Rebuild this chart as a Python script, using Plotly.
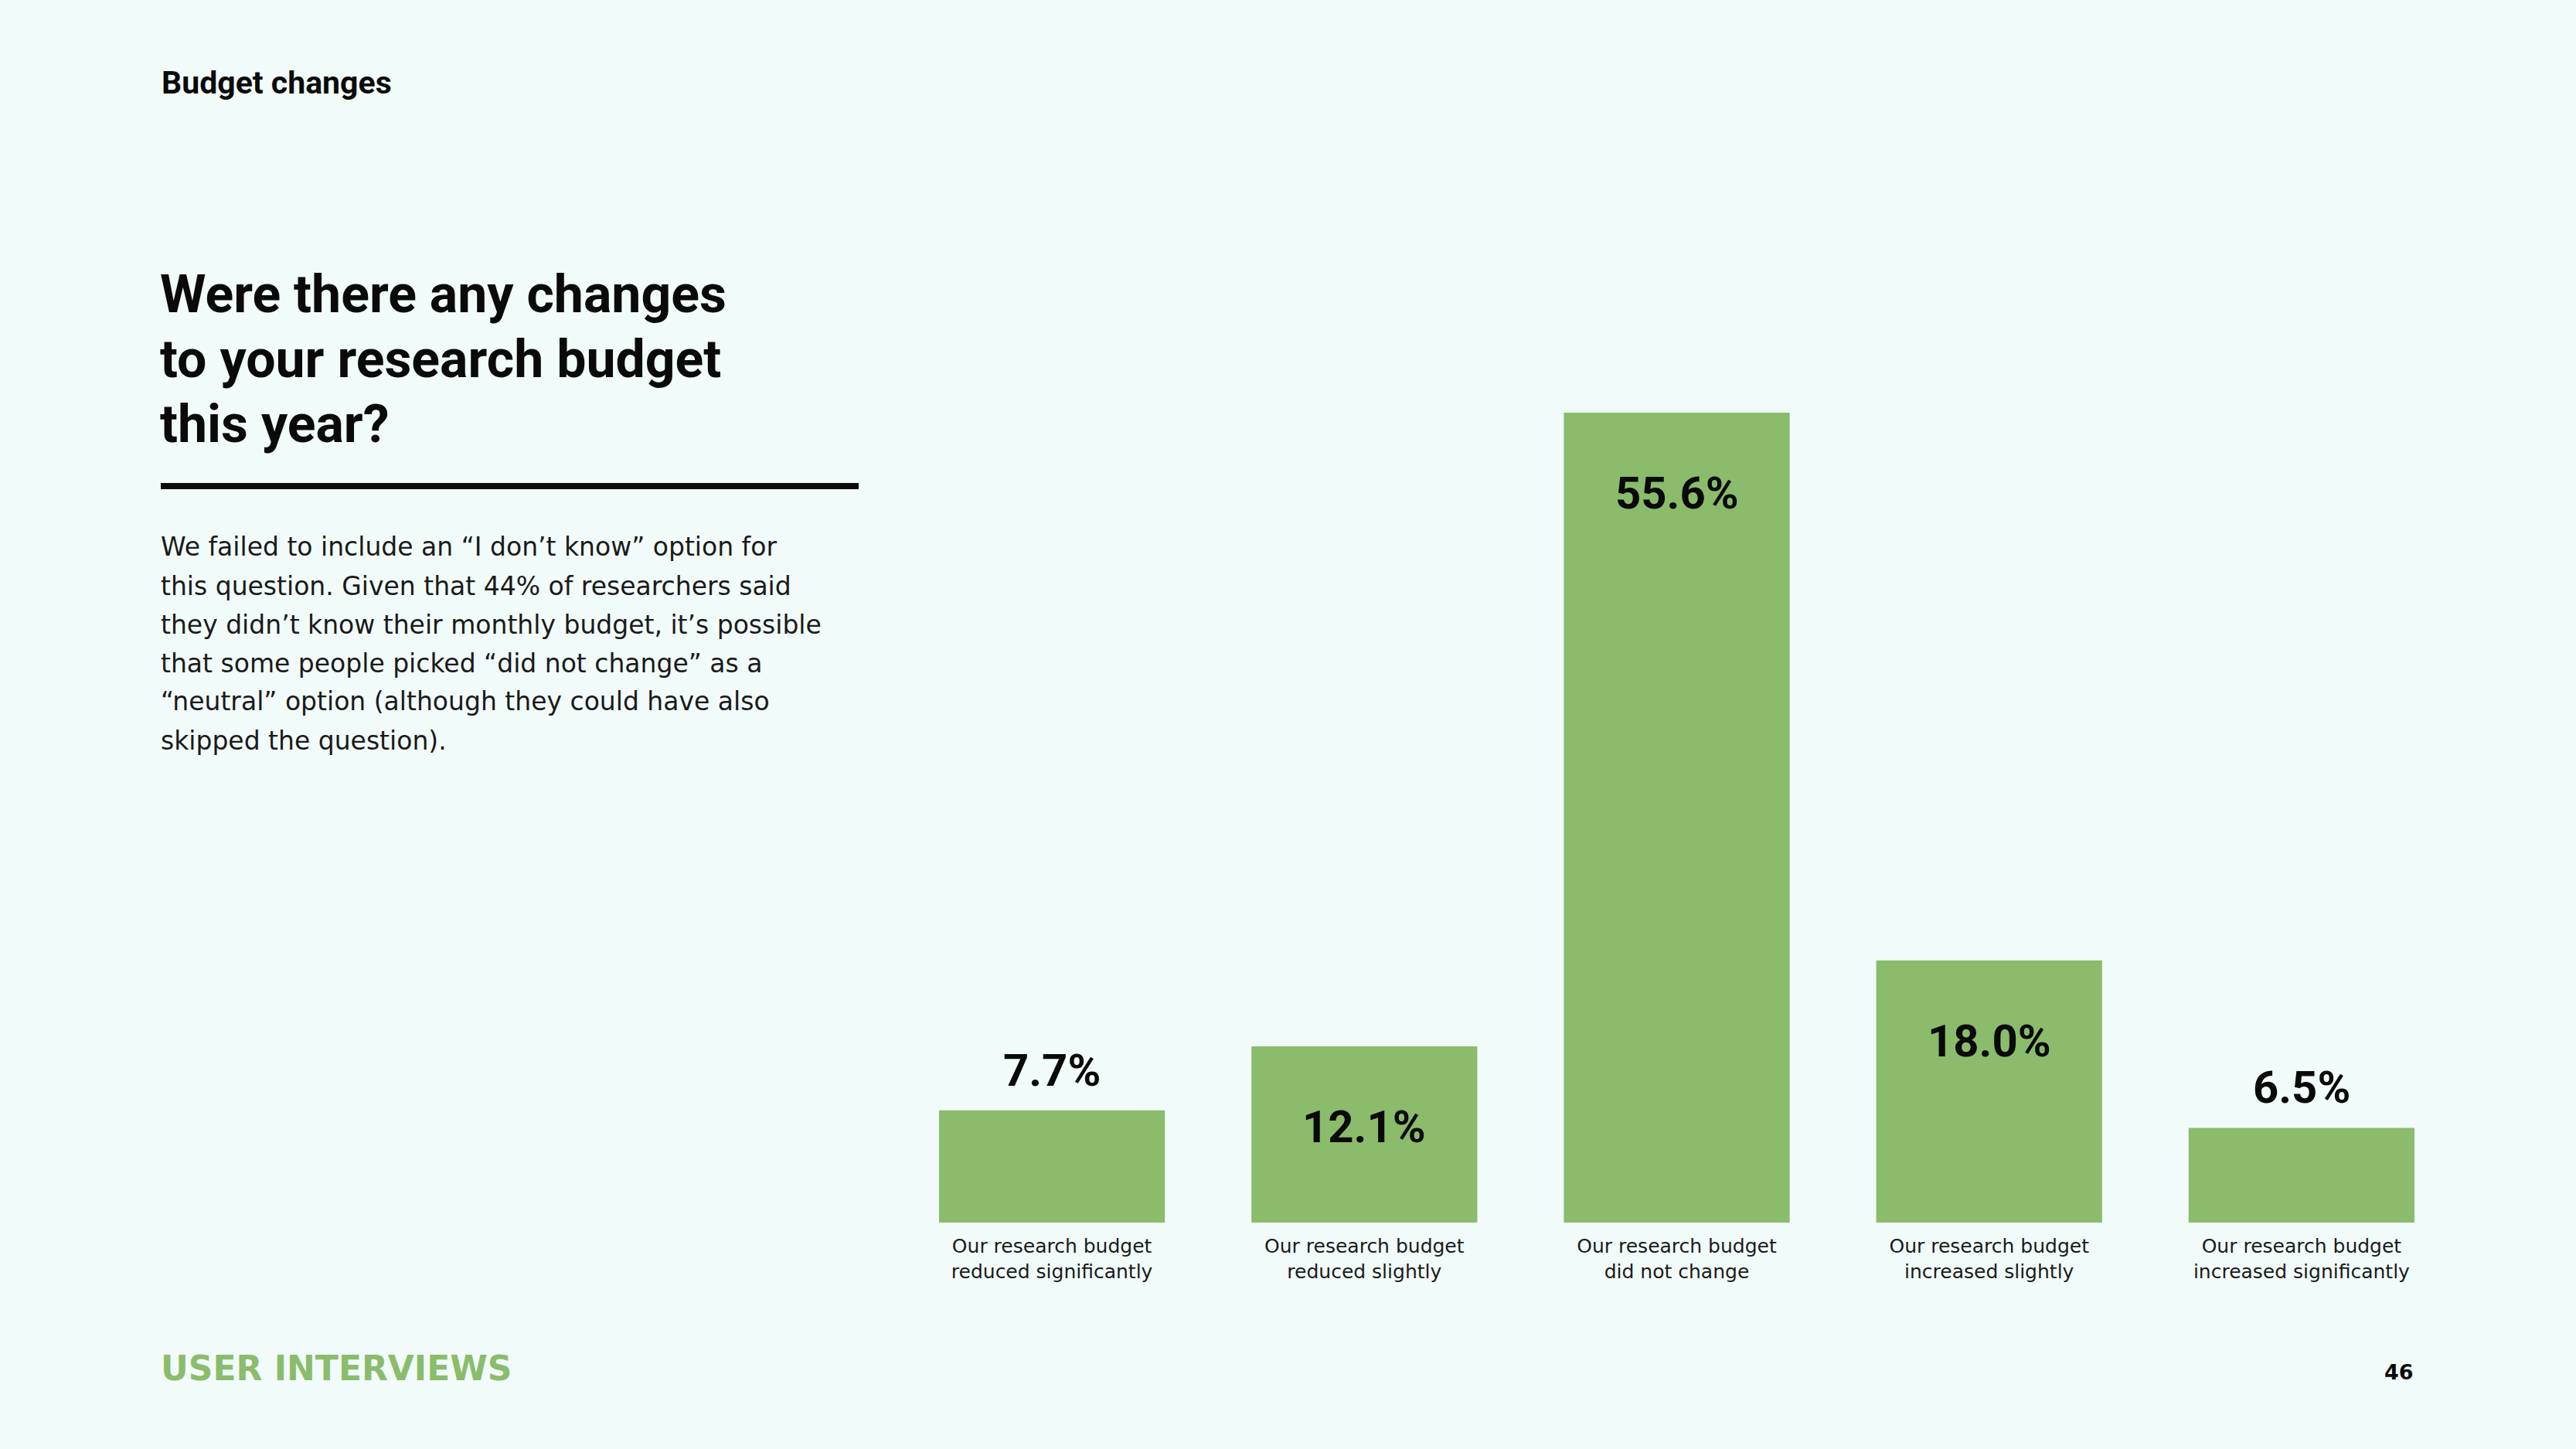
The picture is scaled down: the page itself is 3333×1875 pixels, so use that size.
import plotly.graph_objects as go

# ---- data ----
categories = [
    "Our research budget<br>reduced significantly",
    "Our research budget<br>reduced slightly",
    "Our research budget<br>did not change",
    "Our research budget<br>increased slightly",
    "Our research budget<br>increased significantly",
]
values = [7.7, 12.1, 55.6, 18.0, 6.5]
value_labels = ["7.7%", "12.1%", "55.6%", "18.0%", "6.5%"]

section_title = "Budget changes"
heading_lines = ["Were there any changes", "to your research budget", "this year?"]
body_lines = [
    "We failed to include an \u201cI don\u2019t know\u201d option for",
    "this question. Given that 44% of researchers said",
    "they didn\u2019t know their monthly budget, it\u2019s possible",
    "that some people picked \u201cdid not change\u201d as a",
    "\u201cneutral\u201d option (although they could have also",
    "skipped the question).",
]
footer_brand = "USER INTERVIEWS"
page_number = "46"

# ---- style ----
W, H = 3333, 1875
BG = "#f1fbf9"
GREEN = "#8abc6b"
INK = "#0a0a0a"
HEAD_FONT = "Roboto"
BODY_FONT = "DejaVu Sans"
NUM_FONT = "Roboto"

def py(y_px):
    return 1 - y_px / H

def px(x_px):
    return x_px / W

x_idx = list(range(len(categories)))

fig = go.Figure()
fig.add_trace(go.Bar(
    x=x_idx, y=values, marker=dict(color=GREEN, line=dict(width=0)),
    hoverinfo="skip", showlegend=False,
))

annotations = []
# value labels
for i, (v, lab) in enumerate(zip(values, value_labels)):
    inside = v >= 10
    annotations.append(dict(
        x=i, y=v, xref="x", yref="y", text=f"<b>{lab}</b>", showarrow=False,
        xanchor="center", yanchor="middle",
        yshift=-104 if inside else 52,
        font=dict(family=NUM_FONT, size=58, color=INK),
    ))

# section title
annotations.append(dict(
    x=px(207), y=py(107), xref="paper", yref="paper", text=f"<b>{section_title}</b>",
    showarrow=False, xanchor="left", yanchor="middle",
    font=dict(family=HEAD_FONT, size=41, color=INK),
))
# heading
for k, line in enumerate(heading_lines):
    annotations.append(dict(
        x=px(205), y=py(381 + 84 * k), xref="paper", yref="paper", text=f"<b>{line}</b>",
        showarrow=False, xanchor="left", yanchor="middle",
        font=dict(family=HEAD_FONT, size=68, color=INK),
    ))
# body
for k, line in enumerate(body_lines):
    annotations.append(dict(
        x=px(206), y=py(708 + 50 * k), xref="paper", yref="paper", text=line,
        showarrow=False, xanchor="left", yanchor="middle",
        font=dict(family=BODY_FONT, size=33, color="#1a1a1a"),
    ))
# footer
annotations.append(dict(
    x=px(206), y=py(1770), xref="paper", yref="paper", text=f"<b>{footer_brand}</b>",
    showarrow=False, xanchor="left", yanchor="middle",
    font=dict(family="DejaVu Sans", size=44, color=GREEN),
))
annotations.append(dict(
    x=px(3125), y=py(1775), xref="paper", yref="paper", text=f"<b>{page_number}</b>",
    showarrow=False, xanchor="right", yanchor="middle",
    font=dict(family="DejaVu Sans", size=27, color=INK),
))

shapes = [dict(
    type="rect", xref="paper", yref="paper",
    x0=px(208), x1=px(1111), y0=py(633), y1=py(625),
    fillcolor=INK, line=dict(width=0),
)]

fig.update_layout(
    width=W, height=H,
    margin=dict(l=0, r=0, t=0, b=0),
    paper_bgcolor=BG, plot_bgcolor=BG,
    bargap=0.277,
    annotations=annotations, shapes=shapes,
    xaxis=dict(
        domain=[px(1159), px(3180)], range=[-0.5, 4.5],
        tickmode="array", tickvals=x_idx, ticktext=categories,
        showgrid=False, zeroline=False, showline=False, ticks="",
        ticklabelstandoff=13,
        tickfont=dict(family=BODY_FONT, size=25, color="#1a1a1a"),
        fixedrange=True,
    ),
    yaxis=dict(
        domain=[1 - 1582 / H, 1 - 451 / H], range=[0, 60],
        visible=False, fixedrange=True,
    ),
)

fig.write_html(
    "out.html",
    config={"displayModeBar": False},
    post_script="document.body.style.margin='0';document.body.style.background='#f1fbf9';document.body.style.overflow='hidden';",
)
